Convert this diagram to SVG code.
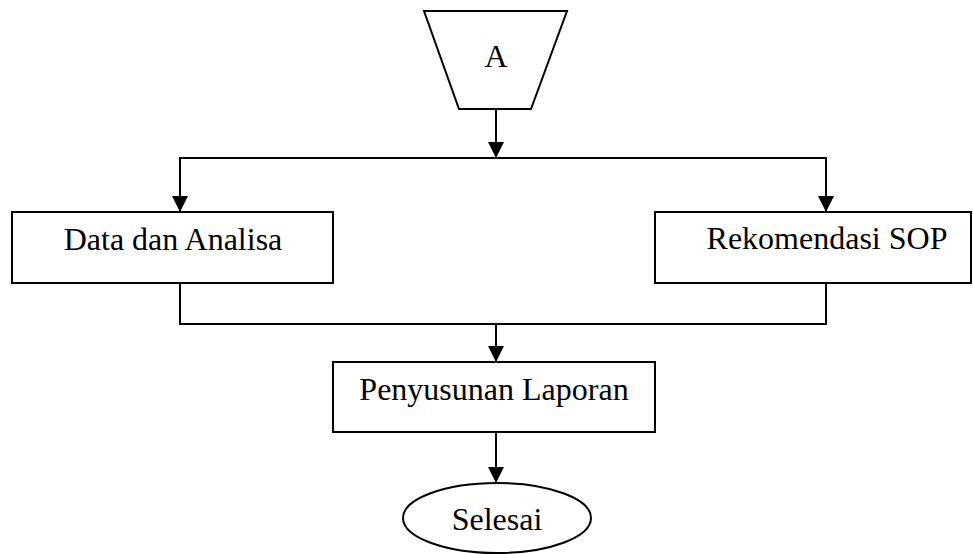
<svg xmlns="http://www.w3.org/2000/svg" width="973" height="554" viewBox="0 0 973 554">
<style>
.s{fill:#fff;stroke:#000;stroke-width:2}
.l{fill:none;stroke:#000;stroke-width:2}
.t{font-family:"Liberation Serif","Times New Roman",serif;font-size:32px;fill:#000;text-anchor:middle}
.h{fill:#000}
</style>
<defs>
<marker id="dn" markerUnits="userSpaceOnUse" markerWidth="16" markerHeight="16" viewBox="0 0 16 16" refX="8" refY="16" orient="0">
<path d="M0,0 L16,0 L8,16 Z" fill="#000"/>
</marker>
</defs>
<g id="connectors">
<line class="l" x1="496" y1="109" x2="496" y2="158" marker-end="url(#dn)"/>
<polyline class="l" points="180,211 180,158 826,158 826,211"/>
<path class="h" d="M172,196 L188,196 L180,212 Z"/>
<path class="h" d="M818,196 L834,196 L826,212 Z"/>
<polyline class="l" points="180,283 180,324 826,324 826,283"/>
<line class="l" x1="496" y1="324" x2="496" y2="362" marker-end="url(#dn)"/>
<line class="l" x1="496" y1="432" x2="496" y2="483" marker-end="url(#dn)"/>
</g>
<g id="node-A">
<polygon class="s" points="424,11 567,11 531,109 459,109"/>
<text class="t" x="496" y="67">A</text>
</g>
<g id="node-data">
<rect class="s" x="12" y="212" width="321" height="71"/>
<text class="t" x="173" y="250">Data dan Analisa</text>
</g>
<g id="node-sop">
<rect class="s" x="655" y="212" width="316" height="71"/>
<text class="t" x="827" y="249">Rekomendasi SOP</text>
</g>
<g id="node-laporan">
<rect class="s" x="333" y="362" width="322" height="70"/>
<text class="t" x="494" y="400">Penyusunan Laporan</text>
</g>
<g id="node-selesai">
<ellipse class="s" cx="497" cy="518" rx="94" ry="35"/>
<text class="t" x="497" y="530">Selesai</text>
</g>
</svg>
